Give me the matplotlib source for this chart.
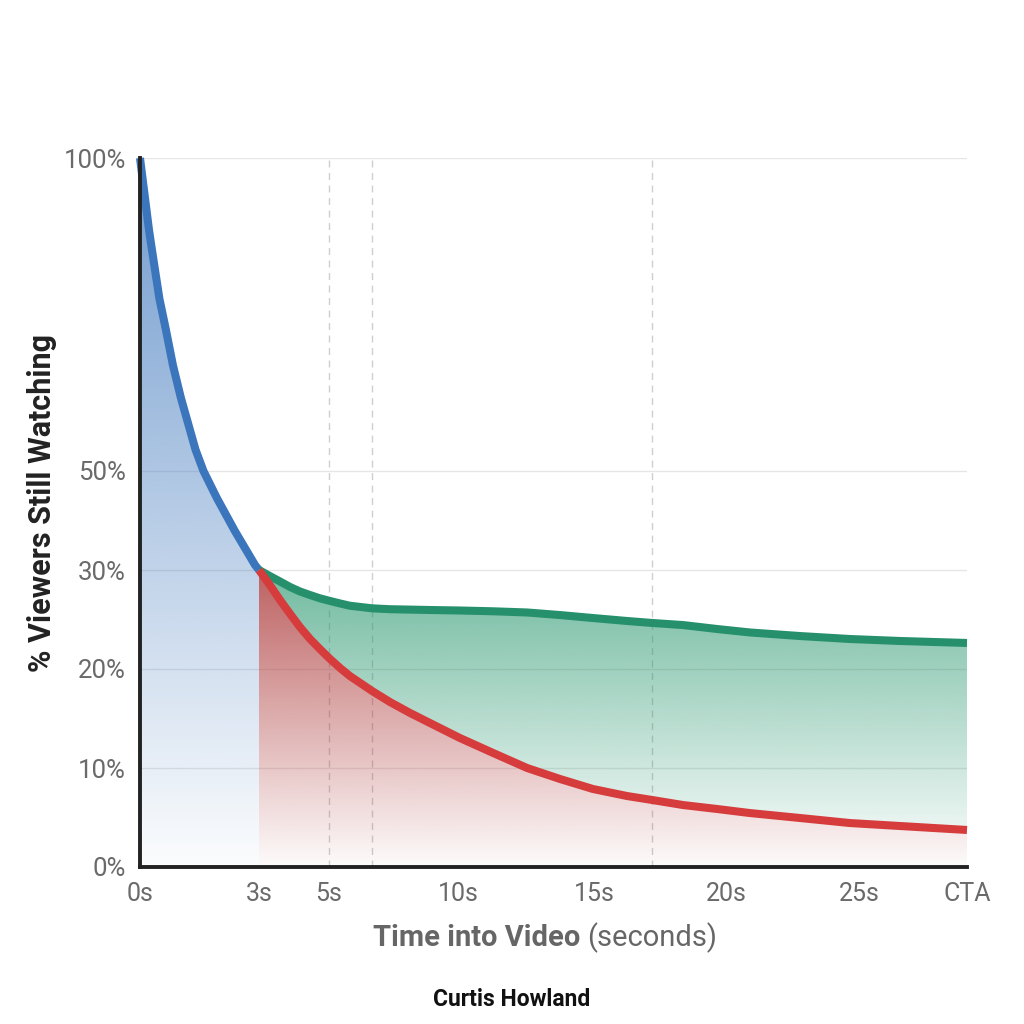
import numpy as np
import matplotlib
matplotlib.use("Agg")
import matplotlib.pyplot as plt

plt.rcParams['font.family'] = ['Roboto', 'DejaVu Sans']

# ---------------- data ----------------
x_tick_values = [0, 3, 5, 10, 15, 20, 25, 30]
x_tick_labels = ['0s', '3s', '5s', '10s', '15s', '20s', '25s', 'CTA']
y_tick_values = [0, 10, 20, 30, 50, 100]
y_tick_labels = ['0%', '10%', '20%', '30%', '50%', '100%']

# first 3 seconds (hook)
hook_time = [0, 0.126, 0.227, 0.302, 0.49, 0.655, 0.83, 1.03, 1.40, 1.60,
             1.94, 2.39, 2.90, 3.0]
hook_pct = [100, 93.6, 88.5, 85.3, 77.5, 72.5, 66.9, 61.7, 53.4, 50.0,
            44.5, 37.9, 31.0, 30]

# after 3 seconds
late_time = [3, 3.31, 3.6, 3.89, 4.17, 4.46, 4.74, 5.0, 5.43, 5.81, 6.67, 7.36, 8.14,
             8.91, 10.07, 11.29, 12.54, 13.75, 14.96, 16.25, 17.2, 18.37, 19.66, 20.9,
             22.78, 24.66, 26.9, 30]
retained_pct = [30.0, 29.39, 28.84, 28.28, 27.83, 27.47, 27.14, 26.90, 26.62, 26.39,
                26.13, 26.04, 26.0, 25.96, 25.91, 25.83, 25.71, 25.45, 25.15, 24.85,
                24.65, 24.44, 24.04, 23.69, 23.33, 23.03, 22.83, 22.63]
dropoff_pct = [30.0, 28.48, 26.97, 25.56, 24.24, 23.03, 22.02, 21.11, 20.10, 19.29,
               17.78, 16.67, 15.56, 14.55, 13.03, 11.52, 10.0, 8.89, 7.88, 7.17,
               6.77, 6.26, 5.86, 5.45, 4.95, 4.44, 4.14, 3.74]

marker_times = [5, 6.67, 17.2]

# ---------------- scales (piecewise) ----------------
X_POS = [0, 119, 189, 318, 454, 586, 719, 827]
Y_POS = [0, 99, 198, 297, 396, 709]


def make_piecewise(src, dst):
    src = np.asarray(src, float)
    dst = np.asarray(dst, float)

    def f(v, s=src, d=dst):
        v = np.asarray(v, float)
        out = np.interp(v, s, d)
        k0 = (d[1] - d[0]) / (s[1] - s[0])
        k1 = (d[-1] - d[-2]) / (s[-1] - s[-2])
        out = np.where(v < s[0], d[0] + (v - s[0]) * k0, out)
        out = np.where(v > s[-1], d[-1] + (v - s[-1]) * k1, out)
        return out

    def g(v, s=src, d=dst):
        v = np.asarray(v, float)
        out = np.interp(v, d, s)
        k0 = (s[1] - s[0]) / (d[1] - d[0])
        k1 = (s[-1] - s[-2]) / (d[-1] - d[-2])
        out = np.where(v < d[0], s[0] + (v - d[0]) * k0, out)
        out = np.where(v > d[-1], s[-1] + (v - d[-1]) * k1, out)
        return out
    return f, g


xf, xg = make_piecewise(x_tick_values, X_POS)
yf, yg = make_piecewise(y_tick_values, Y_POS)

fig = plt.figure(figsize=(10.24, 10.24), dpi=100)
W = H = 1024.0
ax = fig.add_axes([140 / W, 1 - 867 / H, 827 / W, 709 / H])
ax.set_xscale('function', functions=(xf, xg))
ax.set_yscale('function', functions=(yf, yg))
ax.set_xlim(0, 30)
ax.set_ylim(0, 100)


def gradient_fill(ax, x, y1, y2, rgb, c, k, z):
    poly = ax.fill_between(x, y1, y2, facecolor='none', edgecolor='none', zorder=z)
    f = np.linspace(0, 1, 600)
    alpha = np.clip(c + k * f, 0, 1)
    img = np.zeros((600, 1, 4))
    img[..., 0] = rgb[0]
    img[..., 1] = rgb[1]
    img[..., 2] = rgb[2]
    img[..., 3] = alpha[:, None]
    im = ax.imshow(img, extent=(0, 1, 0, 1), transform=ax.transAxes, origin='lower',
                   aspect='auto', interpolation='bilinear', zorder=z)
    im.set_clip_path(poly.get_paths()[0], transform=ax.transData)


def hexrgb(h):
    h = h.lstrip('#')
    return tuple(int(h[i:i + 2], 16) / 255 for i in (0, 2, 4))


BLUE = '#3b75bb'
RED = '#d63c3c'
GREEN = '#26906c'

gradient_fill(ax, hook_time, hook_pct, 0, hexrgb('#3a74bb'), 0.02, 0.70, 1)
gradient_fill(ax, late_time, dropoff_pct, 0, hexrgb('#aa3232'), 0.02, 1.80, 1)
gradient_fill(ax, late_time, retained_pct, dropoff_pct, hexrgb('#26966e'), 0.01, 1.55, 1)

# grid
for yv in y_tick_values[1:]:
    ax.axhline(yv, color='#e6e6e6', lw=1.0, zorder=0.5)
for t in marker_times:
    ax.axvline(t, color='#cfcfcf', lw=1.0, ls=(0, (5, 4)), zorder=0.6)

LW = 5.8
ax.plot(hook_time, hook_pct, color=BLUE, lw=LW, solid_capstyle='butt',
        solid_joinstyle='round', zorder=4, clip_on=False)
ax.plot(late_time, retained_pct, color=GREEN, lw=LW, solid_capstyle='butt',
        solid_joinstyle='round', zorder=4, clip_on=False)
ax.plot(late_time, dropoff_pct, color=RED, lw=LW, solid_capstyle='butt',
        solid_joinstyle='round', zorder=5, clip_on=False)

ax.set_xlim(0, 30)
ax.set_ylim(0, 100)
ax.set_xticks(x_tick_values)
ax.set_xticklabels(x_tick_labels)
ax.set_yticks(y_tick_values)
ax.set_yticklabels(y_tick_labels)
ax.minorticks_off()
ax.tick_params(axis='both', length=0, labelcolor='#6a6a6a')
ax.tick_params(axis='x', pad=11, labelsize=18)
ax.tick_params(axis='y', pad=10, labelsize=18.5)

for s in ['top', 'right']:
    ax.spines[s].set_visible(False)
for s in ['left', 'bottom']:
    ax.spines[s].set_color('#222222')
    ax.spines[s].set_linewidth(2.8)
    ax.spines[s].set_zorder(6)

fig.text(42 / W, 1 - 503 / H, '% Viewers Still Watching', rotation=90, ha='center',
         va='center', fontsize=22, fontweight='bold', color='#222222')

# x label in two parts
t1 = fig.text(0, 1 - 938 / H, 'Time into Video', ha='left', va='center', fontsize=21,
              fontweight='bold', color='#666666')
t2 = fig.text(0, 1 - 938 / H, '(seconds)', ha='left', va='center', fontsize=21,
              color='#666666')
fig.canvas.draw()
r = fig.canvas.get_renderer()
w1 = t1.get_window_extent(r).width
w2 = t2.get_window_extent(r).width
gap = 7
total = w1 + gap + w2
start = 545 - total / 2
t1.set_x(start / W)
t2.set_x((start + w1 + gap) / W)

fig.text(0.5, 1 - 1000 / H, 'Curtis Howland', ha='center', va='center', fontsize=16.5,
         fontweight='bold', color='#111111')

fig.savefig('out.png', dpi=100, facecolor='white')
